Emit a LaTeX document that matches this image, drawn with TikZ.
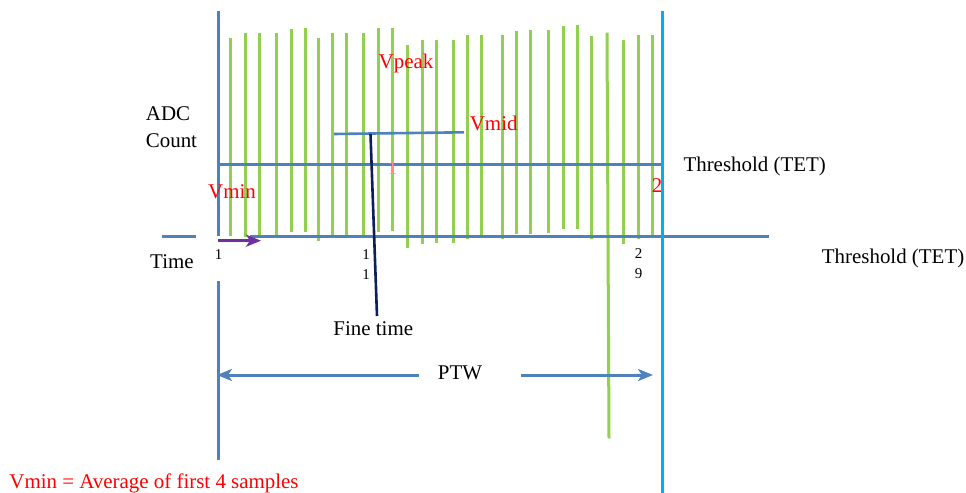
\documentclass[tikz,border=0pt]{standalone}
\usepackage{fontspec}
\setmainfont{Liberation Serif}
\usetikzlibrary{arrows.meta}
\definecolor{axisblue}{HTML}{4F81BD}
\definecolor{bargreen}{HTML}{92D050}
\definecolor{cyanline}{HTML}{00B0F0}
\definecolor{arrowpurple}{HTML}{7030A0}
\definecolor{finenavy}{HTML}{0C1F5C}
\begin{document}
\begin{tikzpicture}[x=1bp,y=-1bp,
  lbl/.style={inner sep=0pt, font=\fontsize{21}{24}\selectfont},
  redlbl/.style={lbl, text=red},
  smalllbl/.style={inner sep=0pt, font=\fontsize{15}{18}\selectfont},
  axisline/.style={draw=axisblue, line width=3bp},
  barline/.style={draw=bargreen, line width=3bp},
  headtip/.style={-{Stealth[length=15bp,width=12bp,inset=4bp]}}]
\useasboundingbox (0,0) rectangle (966,493);
\fill[white] (0,0) rectangle (966,493);
% green samples
\foreach \x/\t/\b in {230/38/236, 245/33/237, 259/33/237, 276.5/33/236,
  291/29/232, 305/28.5/231.7, 318.5/37.7/241.5, 332.5/33.3/237,
  346.3/33/237, 363.5/33/237, 378/28.3/231.7, 392.5/28.3/231,
  407.5/45/248.5, 422.5/40.3/244, 436/40/243.5, 453.3/40/243.3,
  467.7/35/239, 481.7/35/238.3, 502.3/35.3/239, 516.7/31/234.3,
  530.7/30.3/234.3, 548.3/30.3/233.3, 563.5/25.7/229.3, 577/25.3/229.3,
  591/35.7/239.3, 623.5/40/244, 638.5/35/239.3, 652/34.7/238.3}
  \draw[barline] (\x,\t) -- (\x,\b);
\draw[barline] (607,32.7) -- (609,438.3);
% axes
\draw[axisline] (218,11) -- (218,236);
\draw[axisline] (218,281) -- (218,460);
\draw[axisline] (162,237) -- (196,237);
\draw[axisline] (250,237) -- (769,237);
\draw[axisline] (218,164.3) -- (663,164.3);
\draw[draw=cyanline, line width=3bp] (662,11) -- (662,493);
% Vmid and fine time
\coordinate (vm0) at (334,134);
\coordinate (vm1) at (464,132.3);
\draw[axisline, line width=2.6bp] (vm0) -- (vm1);
\coordinate (ft0) at (370.5,134);
\coordinate (ft1) at (377,316);
\draw[draw=finenavy, line width=2.6bp] (ft0) -- (ft1);
% purple arrow
\coordinate (pa0) at (218,240.7);
\coordinate (pa1) at (261,240.7);
\draw[draw=arrowpurple, line width=3bp, headtip, fill=arrowpurple] (pa0) -- (pa1);
% PTW
\node[lbl, anchor=base] (ptw) at (460,380) {PTW};
\coordinate (ptwL) at (217,375);
\coordinate (ptwLa) at (419,375);
\coordinate (ptwRa) at (521,375);
\coordinate (ptwR) at (653,375);
\draw[axisline, headtip] (ptwLa) -- (ptwL);
\draw[axisline, headtip] (ptwRa) -- (ptwR);
% labels
\node[redlbl, anchor=base] (vpeak) at (406,68.3) {Vpeak};
\node[redlbl, anchor=base] (vmid) at (493.7,130.7) {Vmid};
\node[redlbl, anchor=base] (vmin) at (232,198.3) {Vmin};
\node[redlbl, anchor=base] (two) at (657,192.7) {2};
\node[inner sep=0pt, font=\fontsize{19}{22}\selectfont, text=red!45, anchor=base] (one) at (392.7,175) {1};
\node[lbl, anchor=base west] (adc) at (145.7,120.7) {ADC};
\node[lbl, anchor=base west] (count) at (145.7,147.3) {Count};
\node[lbl, anchor=base west] (thr1) at (683.3,171.7) {Threshold (TET)};
\node[lbl, anchor=base west] (thr2) at (821.7,263.3) {Threshold (TET)};
\node[lbl, anchor=base west] (time) at (150,268.3) {Time};
\node[smalllbl, anchor=base] (t1) at (218.5,260) {1};
\node[smalllbl, anchor=base] (t11a) at (366,260) {1};
\node[smalllbl, anchor=base] (t11b) at (366,279.3) {1};
\node[smalllbl, anchor=base] (t29a) at (638.7,258.3) {2};
\node[smalllbl, anchor=base] (t29b) at (638.7,278.3) {9};
\node[lbl, anchor=base] (fine) at (373.3,336) {Fine time};
\node[redlbl, anchor=base west] (note) at (9.3,488) {Vmin = Average of first 4 samples};
\end{tikzpicture}
\end{document}
